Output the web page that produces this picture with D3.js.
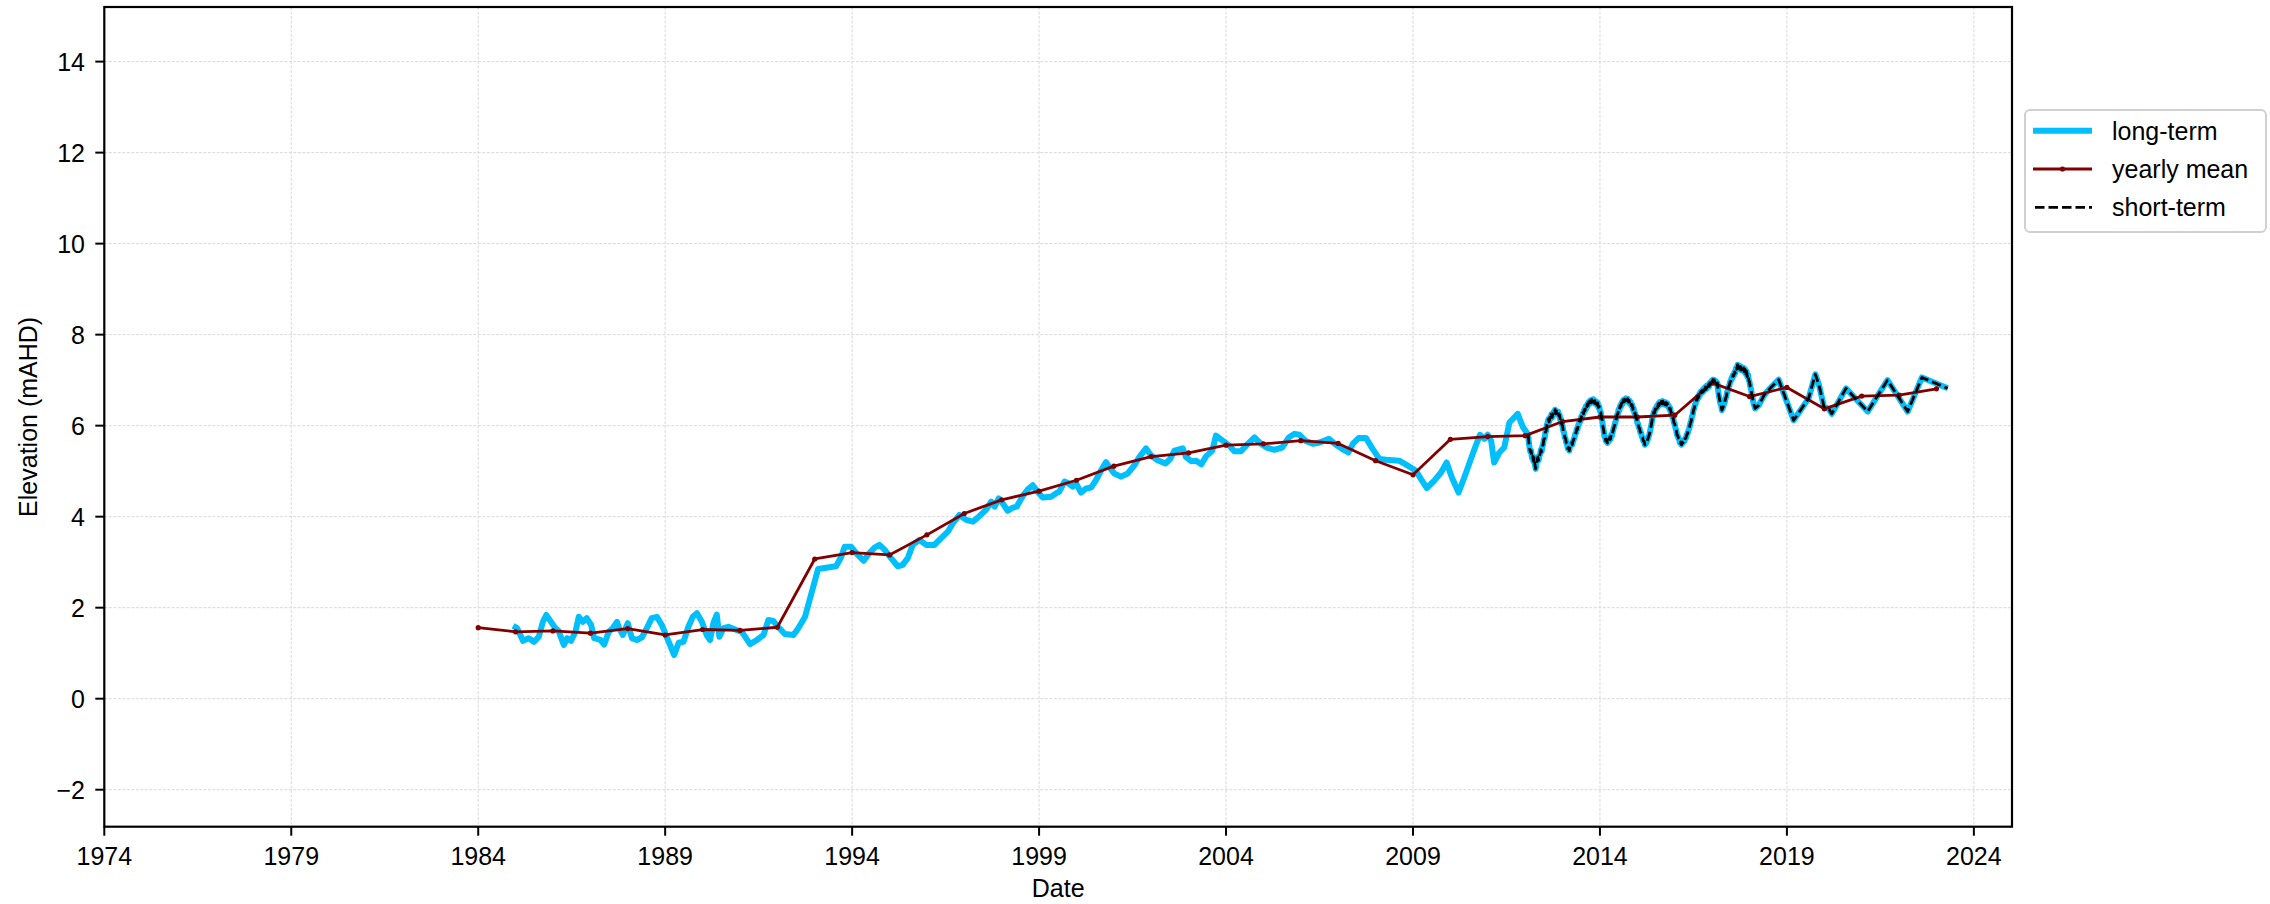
<!DOCTYPE html>
<html>
<head>
<meta charset="utf-8">
<script src="https://cdn.jsdelivr.net/npm/d3@7/dist/d3.min.js"></script>
<style>
  html, body { margin: 0; padding: 0; background: #fff; }
  svg { display: block; }
  text { font-family: "Liberation Sans", Arial, sans-serif; fill: #000; }
</style>
</head>
<body>
<svg id="chart" width="2270" height="904"></svg>
<script>
// ---------------- DATA ----------------
const xTicks = [1974, 1979, 1984, 1989, 1994, 1999, 2004, 2009, 2014, 2019, 2024];
const yTicks = [-2, 0, 2, 4, 6, 8, 10, 12, 14];

// yearly mean (dark red with dot markers)
const yearlyYears = [1984, 1985, 1986, 1987, 1988, 1989, 1990, 1991, 1992, 1993,
  1994, 1995, 1996, 1997, 1998, 1999, 2000, 2001, 2002, 2003,
  2004, 2005, 2006, 2007, 2008, 2009, 2010, 2011, 2012, 2013,
  2014, 2015, 2016, 2017, 2018, 2019, 2020, 2021, 2022, 2023];
const yearlyValues = [1.56, 1.47, 1.49, 1.44, 1.54, 1.40, 1.52, 1.50, 1.57, 3.07,
  3.21, 3.16, 3.60, 4.07, 4.37, 4.56, 4.80, 5.11, 5.32, 5.40,
  5.57, 5.60, 5.67, 5.61, 5.23, 4.92, 5.70, 5.76, 5.78, 6.09,
  6.19, 6.19, 6.23, 6.94, 6.64, 6.84, 6.37, 6.65, 6.67, 6.81];

// long-term record before the short-term logger starts (blue)
const longTermYears = [1984.93, 1985.04, 1985.2, 1985.35, 1985.49, 1985.62, 1985.73, 1985.82, 1985.93,
  1986.06, 1986.15, 1986.29, 1986.38, 1986.48, 1986.6, 1986.69, 1986.8, 1986.9,
  1987.02, 1987.1, 1987.27, 1987.37, 1987.49, 1987.6, 1987.71, 1987.77, 1987.87,
  1988.0, 1988.11, 1988.24, 1988.38, 1988.51, 1988.64, 1988.78, 1988.91,
  1989.04, 1989.13, 1989.24, 1989.36, 1989.49, 1989.62, 1989.74, 1989.85, 1989.98,
  1990.11, 1990.2, 1990.29, 1990.38, 1990.45, 1990.56, 1990.69, 1990.91,
  1991.05, 1991.27, 1991.45, 1991.63, 1991.76, 1991.89,
  1992.02, 1992.2, 1992.43, 1992.56, 1992.74, 1993.09, 1993.57, 1993.71, 1993.8, 1993.97,
  1994.15, 1994.31, 1994.46, 1994.6, 1994.73, 1994.86,
  1995.04, 1995.22, 1995.35, 1995.49, 1995.62, 1995.8, 1995.98,
  1996.2, 1996.38, 1996.56, 1996.69, 1996.87,
  1997.05, 1997.23, 1997.4, 1997.58, 1997.72, 1997.81, 1997.92,
  1998.03, 1998.16, 1998.3, 1998.4, 1998.56, 1998.7, 1998.83, 1998.96,
  1999.1, 1999.32, 1999.45, 1999.54, 1999.68, 1999.77, 1999.9, 1999.99,
  2000.12, 2000.26, 2000.39, 2000.52, 2000.66, 2000.79, 2000.88,
  2001.01, 2001.19, 2001.37, 2001.55, 2001.68, 2001.86, 2001.99,
  2002.17, 2002.38, 2002.5, 2002.62, 2002.84, 2002.93,
  2003.07, 2003.2, 2003.34, 2003.47, 2003.63, 2003.73, 2003.91,
  2004.09, 2004.22, 2004.4, 2004.58, 2004.76, 2004.94,
  2005.11, 2005.29, 2005.5, 2005.68, 2005.83, 2005.96,
  2006.12, 2006.32, 2006.5, 2006.75, 2006.94,
  2007.1, 2007.27, 2007.4, 2007.55, 2007.74, 2007.92,
  2008.1, 2008.28, 2008.63, 2008.86,
  2009.08, 2009.21, 2009.37, 2009.57, 2009.75, 2009.9,
  2010.04, 2010.22, 2010.42, 2010.61, 2010.79, 2010.91,
  2011.0, 2011.09, 2011.17, 2011.31, 2011.44, 2011.58, 2011.71, 2011.8, 2011.94, 2012.03];
const longTermValues = [1.60, 1.55, 1.27, 1.33, 1.25, 1.36, 1.69, 1.84, 1.71,
  1.55, 1.49, 1.18, 1.33, 1.27, 1.47, 1.80, 1.69, 1.77,
  1.62, 1.33, 1.29, 1.19, 1.47, 1.55, 1.69, 1.55, 1.40,
  1.66, 1.33, 1.29, 1.35, 1.55, 1.77, 1.80, 1.62,
  1.36, 1.18, 0.96, 1.23, 1.25, 1.58, 1.80, 1.88, 1.69,
  1.40, 1.29, 1.66, 1.85, 1.36, 1.55, 1.58, 1.51,
  1.47, 1.20, 1.29, 1.40, 1.73, 1.71,
  1.58, 1.42, 1.40, 1.55, 1.80, 2.85, 2.91, 3.12, 3.34, 3.34,
  3.16, 3.03, 3.20, 3.32, 3.38, 3.28,
  3.09, 2.91, 2.94, 3.09, 3.38, 3.49, 3.38,
  3.38, 3.53, 3.67, 3.85, 4.04,
  3.93, 3.89, 4.01, 4.15, 4.33, 4.22, 4.40,
  4.29, 4.13, 4.20, 4.22, 4.45, 4.60, 4.69, 4.55,
  4.42, 4.44, 4.51, 4.55, 4.77, 4.74, 4.66, 4.73,
  4.53, 4.62, 4.64, 4.80, 5.02, 5.20, 5.09,
  4.95, 4.88, 4.95, 5.13, 5.31, 5.50, 5.35,
  5.24, 5.17, 5.26, 5.45, 5.50, 5.31,
  5.22, 5.23, 5.15, 5.33, 5.45, 5.78, 5.67,
  5.56, 5.44, 5.44, 5.60, 5.74, 5.60,
  5.51, 5.47, 5.52, 5.74, 5.82, 5.80,
  5.67, 5.60, 5.63, 5.71, 5.58,
  5.49, 5.41, 5.61, 5.73, 5.73, 5.49,
  5.27, 5.25, 5.23, 5.12,
  5.01, 4.83, 4.63, 4.79, 4.97, 5.19,
  4.86, 4.53, 4.97, 5.41, 5.80, 5.71,
  5.80, 5.67, 5.19, 5.41, 5.52, 6.07, 6.18, 6.26, 5.97, 5.86];

// short-term logger record (black dashed; the blue long-term line follows it too)
// dense, noisy logger readings 2012.08-2018.15, then sparse points to 2023.3
const shortTermYears = [
  2012.08, 2012.10, 2012.12, 2012.14, 2012.16, 2012.18, 2012.20, 2012.22, 2012.24, 2012.26,
  2012.28, 2012.30, 2012.32, 2012.34, 2012.36, 2012.38, 2012.40, 2012.42, 2012.44, 2012.46,
  2012.48, 2012.50, 2012.52, 2012.54, 2012.56, 2012.58, 2012.60, 2012.62, 2012.64, 2012.66,
  2012.68, 2012.70, 2012.72, 2012.74, 2012.76, 2012.78, 2012.80, 2012.82, 2012.84, 2012.86,
  2012.88, 2012.90, 2012.92, 2012.94, 2012.96, 2012.98, 2013.00, 2013.02, 2013.04, 2013.06,
  2013.08, 2013.10, 2013.12, 2013.14, 2013.16, 2013.18, 2013.20, 2013.22, 2013.24, 2013.26,
  2013.28, 2013.30, 2013.32, 2013.34, 2013.36, 2013.38, 2013.40, 2013.42, 2013.44, 2013.46,
  2013.48, 2013.50, 2013.52, 2013.54, 2013.56, 2013.58, 2013.60, 2013.62, 2013.64, 2013.66,
  2013.68, 2013.70, 2013.72, 2013.74, 2013.76, 2013.78, 2013.80, 2013.82, 2013.84, 2013.86,
  2013.88, 2013.90, 2013.92, 2013.94, 2013.96, 2013.98, 2014.00, 2014.02, 2014.04, 2014.06,
  2014.08, 2014.10, 2014.12, 2014.14, 2014.16, 2014.18, 2014.20, 2014.22, 2014.24, 2014.26,
  2014.28, 2014.30, 2014.32, 2014.34, 2014.36, 2014.38, 2014.40, 2014.42, 2014.44, 2014.46,
  2014.48, 2014.50, 2014.52, 2014.54, 2014.56, 2014.58, 2014.60, 2014.62, 2014.64, 2014.66,
  2014.68, 2014.70, 2014.72, 2014.74, 2014.76, 2014.78, 2014.80, 2014.82, 2014.84, 2014.86,
  2014.88, 2014.90, 2014.92, 2014.94, 2014.96, 2014.98, 2015.00, 2015.02, 2015.04, 2015.06,
  2015.08, 2015.10, 2015.12, 2015.14, 2015.16, 2015.18, 2015.20, 2015.22, 2015.24, 2015.26,
  2015.28, 2015.30, 2015.32, 2015.34, 2015.36, 2015.38, 2015.40, 2015.42, 2015.44, 2015.46,
  2015.48, 2015.50, 2015.52, 2015.54, 2015.56, 2015.58, 2015.60, 2015.62, 2015.64, 2015.66,
  2015.68, 2015.70, 2015.72, 2015.74, 2015.76, 2015.78, 2015.80, 2015.82, 2015.84, 2015.86,
  2015.88, 2015.90, 2015.92, 2015.94, 2015.96, 2015.98, 2016.00, 2016.02, 2016.04, 2016.06,
  2016.08, 2016.10, 2016.12, 2016.14, 2016.16, 2016.18, 2016.20, 2016.22, 2016.24, 2016.26,
  2016.28, 2016.30, 2016.32, 2016.34, 2016.36, 2016.38, 2016.40, 2016.42, 2016.44, 2016.46,
  2016.48, 2016.50, 2016.52, 2016.54, 2016.56, 2016.58, 2016.60, 2016.62, 2016.64, 2016.66,
  2016.68, 2016.70, 2016.72, 2016.74, 2016.76, 2016.78, 2016.80, 2016.82, 2016.84, 2016.86,
  2016.88, 2016.90, 2016.92, 2016.94, 2016.96, 2016.98, 2017.00, 2017.02, 2017.04, 2017.06,
  2017.08, 2017.10, 2017.12, 2017.14, 2017.16, 2017.18, 2017.20, 2017.22, 2017.24, 2017.26,
  2017.28, 2017.30, 2017.32, 2017.34, 2017.36, 2017.38, 2017.40, 2017.42, 2017.44, 2017.46,
  2017.48, 2017.50, 2017.52, 2017.54, 2017.56, 2017.58, 2017.60, 2017.62, 2017.64, 2017.66,
  2017.68, 2017.70, 2017.72, 2017.74, 2017.76, 2017.78, 2017.80, 2017.82, 2017.84, 2017.86,
  2017.88, 2017.90, 2017.92, 2017.94, 2017.96, 2017.98, 2018.00, 2018.02, 2018.04, 2018.06,
  2018.08, 2018.10, 2018.12, 2018.15,
  2018.25, 2018.39, 2018.55, 2018.78,
  2019.18, 2019.58, 2019.76, 2019.86, 2019.99, 2020.13, 2020.2, 2020.58,
  2021.16, 2021.69, 2022.23, 2022.61, 2023.3];
const shortTermValues = [
  5.80, 5.62, 5.50, 5.42, 5.45, 5.30, 5.33, 5.22, 5.30, 5.15,
  5.05, 5.16, 5.25, 5.31, 5.24, 5.33, 5.38, 5.47, 5.43, 5.55,
  5.58, 5.70, 5.72, 5.86, 5.88, 6.02, 6.06, 6.14, 6.08, 6.18,
  6.15, 6.25, 6.18, 6.24, 6.30, 6.27, 6.35, 6.26, 6.32, 6.28,
  6.31, 6.22, 6.24, 6.12, 6.14, 6.02, 6.00, 5.88, 5.85, 5.74,
  5.72, 5.62, 5.60, 5.50, 5.52, 5.45, 5.55, 5.56, 5.62, 5.58,
  5.66, 5.70, 5.74, 5.82, 5.84, 5.93, 5.92, 6.02, 6.04, 6.12,
  6.10, 6.20, 6.18, 6.28, 6.26, 6.35, 6.33, 6.42, 6.38, 6.47,
  6.44, 6.52, 6.48, 6.55, 6.50, 6.57, 6.52, 6.58, 6.50, 6.55,
  6.48, 6.53, 6.45, 6.50, 6.40, 6.42, 6.32, 6.30, 6.18, 6.12,
  5.98, 5.90, 5.76, 5.74, 5.66, 5.70, 5.62, 5.68, 5.66, 5.74,
  5.70, 5.80, 5.78, 5.86, 5.92, 5.98, 6.04, 6.10, 6.16, 6.24,
  6.26, 6.36, 6.34, 6.44, 6.42, 6.50, 6.47, 6.56, 6.52, 6.58,
  6.54, 6.60, 6.55, 6.59, 6.52, 6.56, 6.48, 6.52, 6.44, 6.46,
  6.36, 6.38, 6.28, 6.28, 6.18, 6.16, 6.06, 6.04, 5.96, 5.94,
  5.85, 5.84, 5.76, 5.74, 5.66, 5.66, 5.58, 5.60, 5.62, 5.66,
  5.70, 5.76, 5.80, 5.88, 5.96, 6.04, 6.16, 6.22, 6.30, 6.28,
  6.37, 6.36, 6.43, 6.40, 6.48, 6.44, 6.52, 6.47, 6.53, 6.48,
  6.54, 6.48, 6.52, 6.46, 6.51, 6.45, 6.49, 6.42, 6.44, 6.36,
  6.38, 6.28, 6.28, 6.18, 6.16, 6.06, 6.04, 5.94, 5.90, 5.80,
  5.78, 5.72, 5.70, 5.62, 5.64, 5.58, 5.64, 5.62, 5.68, 5.66,
  5.72, 5.73, 5.80, 5.82, 5.88, 5.92, 5.98, 6.06, 6.10, 6.20,
  6.24, 6.34, 6.38, 6.46, 6.48, 6.56, 6.56, 6.64, 6.62, 6.70,
  6.68, 6.75, 6.72, 6.78, 6.74, 6.82, 6.78, 6.85, 6.80, 6.88,
  6.84, 6.90, 6.86, 6.94, 6.92, 6.98, 6.94, 7.01, 6.96, 7.00,
  6.94, 6.98, 6.90, 6.94, 6.78, 6.66, 6.58, 6.48, 6.46, 6.34,
  6.38, 6.42, 6.48, 6.52, 6.60, 6.64, 6.74, 6.76, 6.86, 6.88,
  6.96, 6.98, 7.05, 7.04, 7.12, 7.10, 7.18, 7.16, 7.26, 7.24,
  7.34, 7.28, 7.32, 7.24, 7.30, 7.22, 7.28, 7.22, 7.27, 7.18,
  7.24, 7.14, 7.20, 7.08, 7.12, 7.00, 6.96, 6.86, 6.80, 6.70,
  6.62, 6.52, 6.46, 6.38,
  6.45, 6.67, 6.82, 7.01,
  6.12, 6.60, 7.13, 6.89, 6.42, 6.36, 6.26, 6.82,
  6.31, 7.00, 6.31, 7.06, 6.82];

const seriesNames = ["long-term", "yearly mean", "short-term"];

// ---------------- LAYOUT ----------------
const W = 2270, H = 904;
const plot = { left: 104.3, right: 2012, top: 7, bottom: 826.7 };

const svg = d3.select("#chart");
svg.append("rect").attr("width", W).attr("height", H).attr("fill", "#fff");

const x = d3.scaleLinear().domain([1974, 2025.02]).range([plot.left, plot.right]);
const y = d3.scaleLinear().domain([-2.813, 15.20]).range([plot.bottom, plot.top]);

// grid
const grid = svg.append("g");
grid.selectAll("line.vg").data(xTicks).join("line")
  .attr("x1", d => x(d)).attr("x2", d => x(d))
  .attr("y1", plot.top).attr("y2", plot.bottom)
  .attr("stroke", "#d9d9d9").attr("stroke-width", 1).attr("stroke-dasharray", "3,1.5");
grid.selectAll("line.hg").data(yTicks).join("line")
  .attr("x1", plot.left).attr("x2", plot.right)
  .attr("y1", d => y(d)).attr("y2", d => y(d))
  .attr("stroke", "#d9d9d9").attr("stroke-width", 1).attr("stroke-dasharray", "3,1.5");

// clip
svg.append("clipPath").attr("id", "clip").append("rect")
  .attr("x", plot.left).attr("y", plot.top)
  .attr("width", plot.right - plot.left).attr("height", plot.bottom - plot.top);
const g = svg.append("g").attr("clip-path", "url(#clip)");

const line = d3.line().x(d => x(d[0])).y(d => y(d[1]));

const longTerm = longTermYears.map((t, i) => [t, longTermValues[i]])
  .concat(shortTermYears.map((t, i) => [t, shortTermValues[i]]));
const yearly = yearlyYears.map((t, i) => [t, yearlyValues[i]]);
const shortTerm = shortTermYears.map((t, i) => [t, shortTermValues[i]]);

g.append("path").datum(longTerm).attr("d", line)
  .attr("fill", "none").attr("stroke", "#00bfff").attr("stroke-width", 6)
  .attr("stroke-linejoin", "round").attr("stroke-linecap", "butt");

g.append("path").datum(yearly).attr("d", line)
  .attr("fill", "none").attr("stroke", "#800000").attr("stroke-width", 2.8)
  .attr("stroke-linejoin", "round");
g.selectAll("circle.ym").data(yearly).join("circle")
  .attr("cx", d => x(d[0])).attr("cy", d => y(d[1])).attr("r", 2.6)
  .attr("fill", "#800000");

g.append("path").datum(shortTerm).attr("d", line)
  .attr("fill", "none").attr("stroke", "#000").attr("stroke-width", 2.8)
  .attr("stroke-dasharray", "9.5,4").attr("stroke-linejoin", "round");

// axes ticks & labels
const axes = svg.append("g");
axes.selectAll("line.xt").data(xTicks).join("line")
  .attr("x1", d => x(d)).attr("x2", d => x(d))
  .attr("y1", plot.bottom).attr("y2", plot.bottom + 9)
  .attr("stroke", "#000").attr("stroke-width", 2);
axes.selectAll("text.xt").data(xTicks).join("text")
  .attr("x", d => x(d)).attr("y", 865)
  .attr("text-anchor", "middle").attr("font-size", 25)
  .text(d => d3.format("d")(d));

axes.selectAll("line.yt").data(yTicks).join("line")
  .attr("x1", plot.left - 9).attr("x2", plot.left)
  .attr("y1", d => y(d)).attr("y2", d => y(d))
  .attr("stroke", "#000").attr("stroke-width", 2);
axes.selectAll("text.yt").data(yTicks).join("text")
  .attr("x", 85).attr("y", d => y(d) + 9)
  .attr("text-anchor", "end").attr("font-size", 25)
  .text(d => d < 0 ? "\u2212" + Math.abs(d) : String(d));

// frame
svg.append("rect")
  .attr("x", plot.left).attr("y", plot.top)
  .attr("width", plot.right - plot.left).attr("height", plot.bottom - plot.top)
  .attr("fill", "none").attr("stroke", "#000").attr("stroke-width", 2.2);

// axis titles
svg.append("text").attr("x", (plot.left + plot.right) / 2).attr("y", 897)
  .attr("text-anchor", "middle").attr("font-size", 25).text("Date");
svg.append("text")
  .attr("transform", `translate(37, ${(plot.top + plot.bottom) / 2}) rotate(-90)`)
  .attr("text-anchor", "middle").attr("font-size", 25).text("Elevation (mAHD)");

// legend
const lg = svg.append("g");
lg.append("rect").attr("x", 2025).attr("y", 110).attr("width", 241).attr("height", 122)
  .attr("rx", 5).attr("fill", "#fff").attr("stroke", "#d0d0d0").attr("stroke-width", 2);
const rowsY = [130.7, 169, 207.3];
lg.append("line").attr("x1", 2033).attr("x2", 2092).attr("y1", rowsY[0]).attr("y2", rowsY[0])
  .attr("stroke", "#00bfff").attr("stroke-width", 6);
lg.append("line").attr("x1", 2033).attr("x2", 2092).attr("y1", rowsY[1]).attr("y2", rowsY[1])
  .attr("stroke", "#800000").attr("stroke-width", 2.8);
lg.append("circle").attr("cx", 2062.5).attr("cy", rowsY[1]).attr("r", 2.6).attr("fill", "#800000");
lg.append("line").attr("x1", 2035).attr("x2", 2092).attr("y1", rowsY[2]).attr("y2", rowsY[2])
  .attr("stroke", "#000").attr("stroke-width", 2.8).attr("stroke-dasharray", "9.5,4");
lg.selectAll("text").data(seriesNames).join("text")
  .attr("x", 2112).attr("y", (d, i) => rowsY[i] + 9)
  .attr("font-size", 25).text(d => d);
</script>
</body>
</html>
